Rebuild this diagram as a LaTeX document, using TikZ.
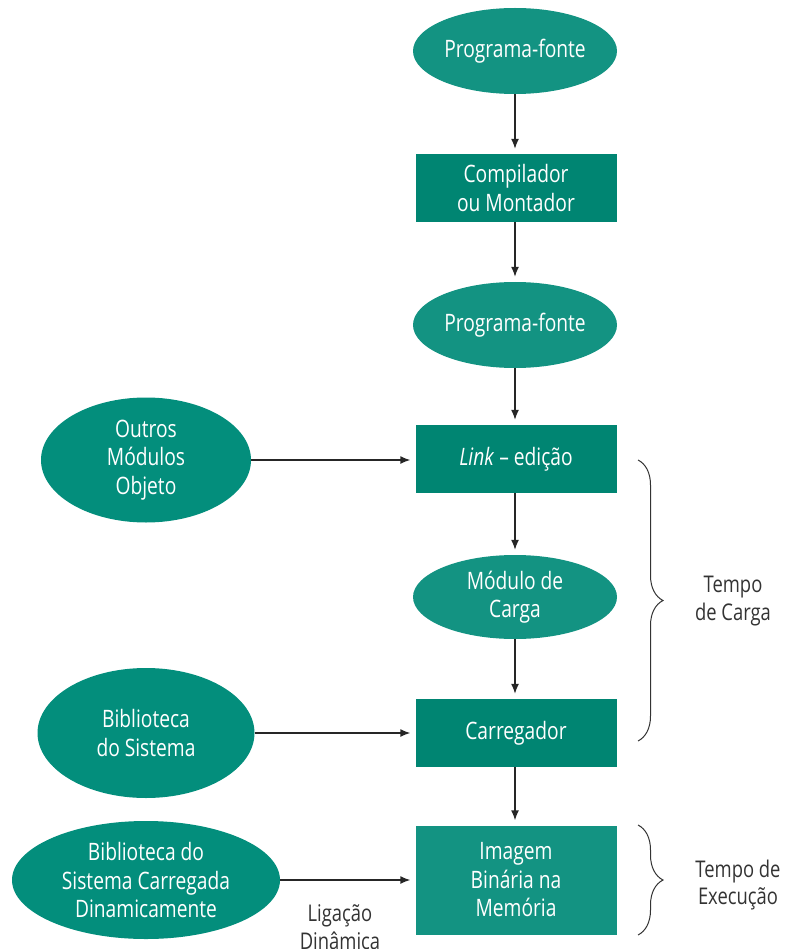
\documentclass[tikz,border=0pt]{standalone}
\usepackage{fontspec}
\setmainfont{Open Sans}[FakeStretch=0.8]
\usetikzlibrary{shapes.geometric,arrows.meta,decorations.pathreplacing}
\definecolor{ovalteal}{HTML}{139382}
\definecolor{sideteal}{HTML}{038E7C}
\definecolor{boxteal}{HTML}{008572}
\definecolor{inkgrey}{HTML}{333333}

\tikzset{
  base/.style={text=white, align=center, inner sep=0pt,
    font=\fontsize{24}{28.5}\selectfont},
  oval/.style={base, ellipse, fill=ovalteal},
  sideoval/.style={base, ellipse, fill=sideteal},
  stage/.style={base, rectangle, fill=boxteal, minimum width=201pt, minimum height=68pt},
  result/.style={base, rectangle, fill=ovalteal, minimum width=201pt, minimum height=109pt},
  note/.style={text=inkgrey, align=center, inner sep=0pt,
    font=\fontsize{23}{27.5}\selectfont},
  flow/.style={-{Latex[length=10pt,width=8pt]}, line width=1.4pt, black!85, shorten >=5pt},
  span/.style={decorate, decoration={brace, amplitude=25pt}, line width=1pt, inkgrey}
}

\begin{document}
\begin{tikzpicture}[x=1pt, y=-1pt]
  \useasboundingbox (0,0) rectangle (785,949);

  % main column
  \node[oval, minimum width=204pt, minimum height=86pt] (src1) at (515,51) {Programa-fonte};
  \node[stage] (comp) at (516,188) {Compilador\\ou Montador};
  \node[oval, minimum width=204pt, minimum height=86pt] (src2) at (515,325) {Programa-fonte};
  \node[stage] (link) at (516,459) {\textit{Link} -- edição};
  \node[oval, minimum width=204pt, minimum height=84pt] (mod) at (515,597) {Módulo de\\Carga};
  \node[stage] (load) at (516,733) {Carregador};
  \node[result] (img) at (516,880) {Imagem\\Binária na\\Memória};

  % side inputs
  \node[sideoval, minimum width=210pt, minimum height=125pt] (other) at (146,460) {Outros\\Módulos\\Objeto};
  \node[sideoval, minimum width=217pt, minimum height=130pt] (lib) at (146,733) {Biblioteca\\do Sistema};
  \node[sideoval, minimum width=268pt, minimum height=118pt] (dyn) at (146,880) {Biblioteca do\\Sistema Carregada\\Dinamicamente};

  % vertical flow
  \draw[flow] (src1.south) -- (src1.south |- comp.north);
  \draw[flow] (comp.south -| src1.south) -- (src1.south |- src2.north);
  \draw[flow] (src2.south) -- (src2.south |- link.north);
  \draw[flow] (link.south -| src2.south) -- (src2.south |- mod.north);
  \draw[flow] (mod.south) -- (mod.south |- load.north);
  \draw[flow] (load.south -| mod.south) -- (mod.south |- img.north);

  % horizontal flow
  \draw[flow] (other.east) -- (other.east -| link.west);
  \draw[flow] (lib.east) -- (lib.east -| load.west);
  \draw[flow] (dyn.east) -- (dyn.east -| img.west);
  \node[note] (dynlabel) at (340,927) {Ligação\\Dinâmica};

  % braces
  \coordinate (b1top) at (638,460);
  \coordinate (b1bot) at (638,741);
  \coordinate (b2top) at (638,825);
  \coordinate (b2bot) at (638,935);
  \draw[span] (b1top) -- (b1bot);
  \draw[span] (b2top) -- (b2bot);
  \node[note] (loadtime) at (733,601) {Tempo\\de Carga};
  \node[note] (runtime) at (738,885) {Tempo de\\Execução};
\end{tikzpicture}
\end{document}
